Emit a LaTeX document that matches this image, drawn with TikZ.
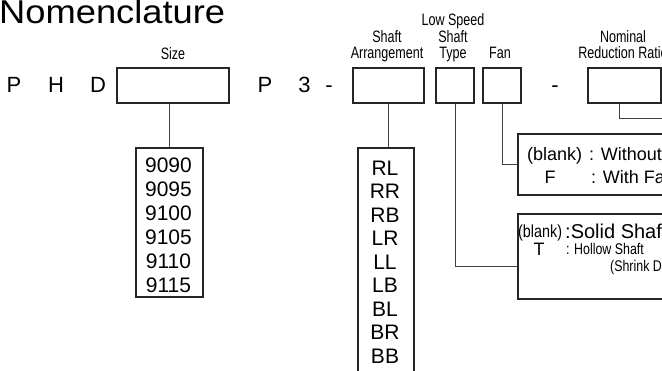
\documentclass[tikz,border=0pt]{standalone}
\usepackage{fontspec}
\setmainfont{Liberation Sans}
\usepackage{graphicx}
\begin{document}
\begin{tikzpicture}[x=1pt,y=-1pt,
  box/.style={draw=black!85,line width=2pt,inner sep=0pt,anchor=north west},
  wire/.style={draw=black!75,line width=1pt},
  big/.style={font=\fontsize{22}{24}\selectfont,inner sep=0pt,anchor=base},
  lab/.style={font=\fontsize{16.5}{17}\selectfont,inner sep=0pt,anchor=base},
  val/.style={font=\fontsize{21}{23.7}\selectfont,inner sep=0pt,anchor=base},
  opt/.style={font=\fontsize{18}{20}\selectfont,inner sep=0pt,anchor=base west}]
\newcommand{\cnd}[1]{\scalebox{0.76}[1]{#1}}
\useasboundingbox (0,0) rectangle (662,370);
\clip (0,0) rectangle (662,370);
% title
\node[inner sep=0pt,anchor=base west,font=\fontsize{33}{35}\selectfont] (title) at (-1,23) {\scalebox{1.1}[1]{Nomenclature}};
% prefix letters
\node[big] (pP) at (14,92) {P};
\node[big] (pH) at (56,92) {H};
\node[big] (pD) at (98,92) {D};
\node[big] (p2) at (265,92) {P};
\node[big] (p3) at (304.5,92) {3};
\node[big] (d1) at (329,92) {-};
\node[big] (d2) at (555,92) {-};
% code boxes
\node[box,minimum width=112pt,minimum height=35pt] (sizebox) at (116,67) {};
\node[box,minimum width=71pt,minimum height=35pt] (arrbox) at (352,67) {};
\node[box,minimum width=38pt,minimum height=35pt] (typebox) at (435,67) {};
\node[box,minimum width=38pt,minimum height=35pt] (fanbox) at (482,67) {};
\node[box,minimum width=73pt,minimum height=35pt] (ratiobox) at (587,67) {};
% labels
\node[lab] (lsize) at (173,59) {\cnd{Size}};
\node[lab] (larr1) at (387,42) {\cnd{Shaft}};
\node[lab] (larr2) at (387,58) {\cnd{Arrangement}};
\node[lab] (ltyp1) at (453,25) {\cnd{Low Speed}};
\node[lab] (ltyp2) at (453,42) {\cnd{Shaft}};
\node[lab] (ltyp3) at (453,58) {\cnd{Type}};
\node[lab] (lfan) at (500,58) {\cnd{Fan}};
\node[lab] (lrat1) at (623,42) {\cnd{Nominal}};
\node[lab] (lrat2) at (623,58) {\cnd{Reduction Ratio}};
% value boxes
\node[box,minimum width=67pt,minimum height=149pt] (numbox) at (135,147) {};
\node[box,minimum width=56pt,minimum height=240pt] (listbox) at (357,147) {};
\node[box,minimum width=160pt,minimum height=61pt] (fanopt) at (517,133) {};
\node[box,minimum width=160pt,minimum height=85pt] (shaftopt) at (517,213) {};
% numbers
\foreach \t [count=\i from 0] in {9090,9095,9100,9105,9110,9115}
  \node[val] (n\i) at (168.5,172+24*\i) {\t};
\foreach \t [count=\i from 0] in {RL,RR,RB,LR,LL,LB,BL,BR,BB}
  \node[val] (a\i) at (385,175+23.5*\i) {\t};
% fan options
\node[opt] (fb) at (527,160) {(blank)};
\node[opt] (fw) at (589,160) {: Without Fan};
\node[opt,anchor=base] (ff) at (550,183) {F};
\node[opt] (fwf) at (591,183) {: With Fan};
% shaft options
\node[opt,font=\fontsize{17.5}{19}\selectfont] (sb) at (518,237) {\scalebox{0.82}[1]{(blank)}};
\node[opt,font=\fontsize{20}{22}\selectfont] (ss) at (565,238) {:Solid Shaft};
\node[opt,anchor=base] (st) at (539,255) {T};
\node[opt,font=\fontsize{15.5}{17}\selectfont] (sh) at (566,254) {\scalebox{0.8}[1]{: Hollow Shaft}};
\node[opt,font=\fontsize{15.5}{17}\selectfont] (sd) at (610,271) {\scalebox{0.8}[1]{(Shrink Disc)}};
% connectors
\coordinate (tjoin) at (517,266);
\coordinate (rexit) at (680,118);
\draw[wire] (numbox.north |- sizebox.south) -- (numbox.north);
\draw[wire] (arrbox.south) -- (arrbox.south |- listbox.north);
\draw[wire] (typebox.south) |- (tjoin);
\draw[wire] (fanbox.south) |- (fanopt.west);
\draw[wire] ([xshift=-5pt]ratiobox.south) |- (rexit);
\end{tikzpicture}
\end{document}
